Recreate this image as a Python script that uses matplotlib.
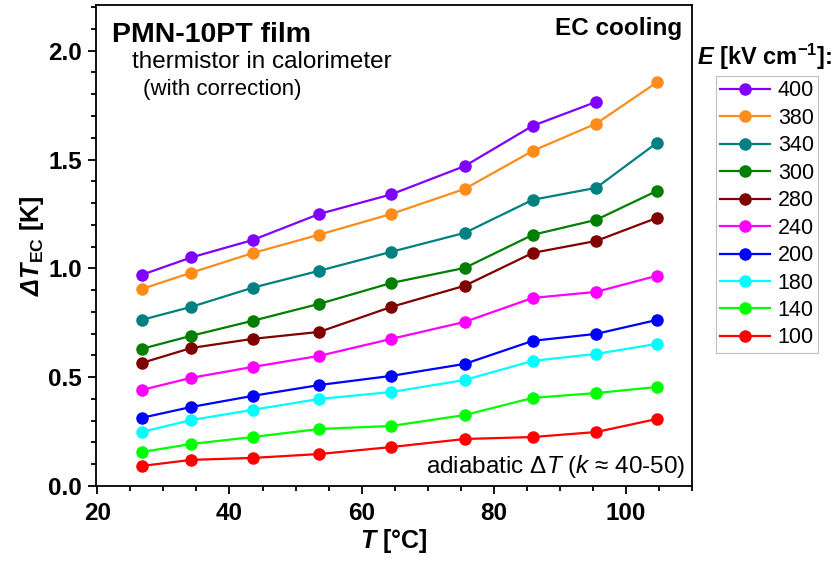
import numpy as np
import matplotlib
matplotlib.use("Agg")
import matplotlib.pyplot as plt
from matplotlib.ticker import MultipleLocator, FormatStrFormatter

plt.rcParams['font.family'] = ['Liberation Sans', 'DejaVu Sans']
plt.rcParams['mathtext.fontset'] = 'custom'
plt.rcParams['mathtext.rm'] = 'Liberation Sans'
plt.rcParams['mathtext.it'] = 'Liberation Sans:italic'
plt.rcParams['mathtext.bf'] = 'Liberation Sans:bold'
plt.rcParams['mathtext.bfit'] = 'Liberation Sans:bold:italic'

# temperatures [°C]
T = [26.7, 34.2, 43.5, 53.6, 64.5, 75.6, 85.9, 95.5, 104.7]

# EC temperature change [K] per field [kV/cm]
dT_400 = [0.97, 1.05, 1.13, 1.25, 1.34, 1.47, 1.655, 1.765]
dT_380 = [0.905, 0.98, 1.07, 1.155, 1.25, 1.365, 1.54, 1.665, 1.855]
dT_340 = [0.763, 0.823, 0.911, 0.989, 1.076, 1.163, 1.315, 1.37, 1.577]
dT_300 = [0.63, 0.69, 0.759, 0.837, 0.933, 1.002, 1.154, 1.223, 1.356]
dT_280 = [0.565, 0.634, 0.676, 0.708, 0.823, 0.92, 1.071, 1.126, 1.232]
dT_240 = [0.441, 0.497, 0.547, 0.598, 0.676, 0.754, 0.864, 0.892, 0.966]
dT_200 = [0.313, 0.363, 0.414, 0.464, 0.506, 0.561, 0.667, 0.699, 0.763]
dT_180 = [0.248, 0.303, 0.35, 0.40, 0.432, 0.487, 0.575, 0.607, 0.653]
dT_140 = [0.156, 0.193, 0.225, 0.262, 0.276, 0.326, 0.405, 0.427, 0.455]
dT_100 = [0.092, 0.12, 0.129, 0.147, 0.179, 0.216, 0.225, 0.248, 0.308]

fields = ['400', '380', '340', '300', '280', '240', '200', '180', '140', '100']
series = [dT_400, dT_380, dT_340, dT_300, dT_280, dT_240, dT_200, dT_180, dT_140, dT_100]
colors = ['#8000ff', '#ff8c1a', '#008080', '#007f00', '#800000',
          '#ff00ff', '#0000ff', '#00ffff', '#00ff00', '#ff0000']

fig = plt.figure(figsize=(8.33, 5.61), dpi=100)
ax = fig.add_axes([96/833, 75/561, 596/833, 481/561])

for lab, y, c in zip(fields, series, colors):
    ax.plot(T[:len(y)], y, '-', color=c, lw=1.6, marker='o', markersize=8,
            label=lab)

ax.set_xlim(19.8, 110)
ax.set_ylim(0, 2.21)
ax.xaxis.set_major_locator(MultipleLocator(20))
ax.xaxis.set_minor_locator(MultipleLocator(5))
ax.yaxis.set_major_locator(MultipleLocator(0.5))
ax.yaxis.set_minor_locator(MultipleLocator(0.1))
ax.yaxis.set_major_formatter(FormatStrFormatter('%.1f'))
ax.tick_params(which='both', direction='out', top=False, right=False, width=1.3)
ax.tick_params(which='major', length=6, labelsize=17.5, pad=4)
ax.tick_params(axis='x', which='major', pad=5.5)
ax.tick_params(which='minor', length=3.5)
for lbl in ax.get_xticklabels() + ax.get_yticklabels():
    lbl.set_fontweight('bold')
for s in ax.spines.values():
    s.set_linewidth(1.3)

ax.set_xlabel(r'$\mathbfit{T}$ [°C]', fontsize=18, fontweight='bold', labelpad=1.5)
ax.set_ylabel(r'$\mathbfit{\Delta T}_{\mathbf{EC}}$ [K]', fontsize=18,
              fontweight='bold', labelpad=2)

ax.text(0.027, 0.923, 'PMN-10PT film', transform=ax.transAxes, fontsize=20.5,
        fontweight='bold', va='baseline', ha='left')
ax.text(0.060, 0.869, 'thermistor in calorimeter', transform=ax.transAxes,
        fontsize=17.5, va='baseline', ha='left')
ax.text(0.079, 0.813, '(with correction)', transform=ax.transAxes,
        fontsize=16, va='baseline', ha='left')
ax.text(0.983, 0.938, 'EC cooling', transform=ax.transAxes, fontsize=17.5,
        fontweight='bold', va='baseline', ha='right')
ax.text(0.988, 0.027, r'adiabatic $\mathit{\Delta T}$ ($\mathit{k}$ ≈ 40-50)',
        transform=ax.transAxes, fontsize=17.5, va='baseline', ha='right')

fig.text(697/833, 1 - 65/561, r'$\mathbfit{E}$ [kV cm$^{\mathbf{-1}}$]:',
         fontsize=17, fontweight='bold', va='baseline', ha='left')
leg = fig.legend(loc='upper left', bbox_to_anchor=(716/833, 1 - 76/561),
                 borderaxespad=0, fontsize=15.5, handlelength=2.3,
                 labelspacing=0.3, borderpad=0.2, handletextpad=0.37,
                 fancybox=False, framealpha=1, edgecolor='#bfbfbf')
leg.get_frame().set_linewidth(0.8)

fig.savefig('out.png', dpi=100)
